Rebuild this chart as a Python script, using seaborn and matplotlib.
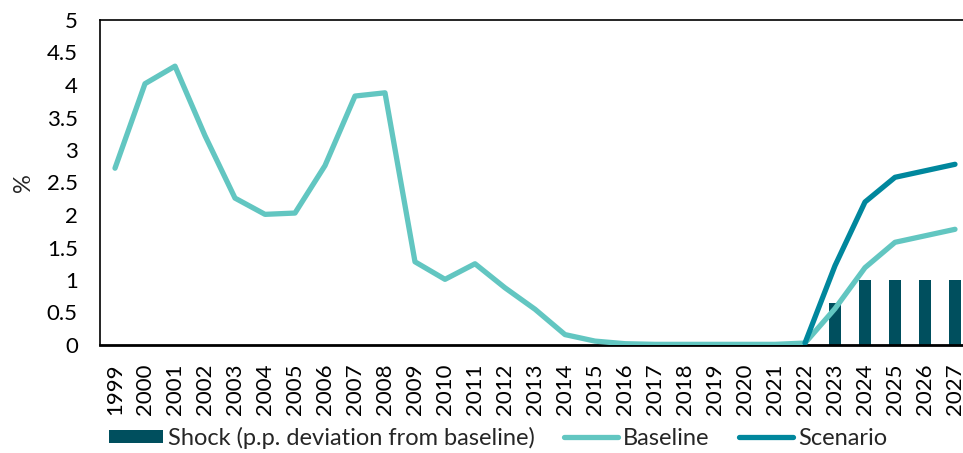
import numpy as np
import pandas as pd
import matplotlib
matplotlib.use("Agg")
import matplotlib.pyplot as plt
import seaborn as sns

# Interest-rate path, 1999-2027 (%)
years = list(range(1999, 2028))
baseline = [2.72, 4.02, 4.29, 3.22, 2.26, 2.01, 2.03, 2.76, 3.83, 3.88,
            1.28, 1.01, 1.25, 0.88, 0.55, 0.16, 0.06, 0.02, 0.01, 0.01,
            0.01, 0.01, 0.01, 0.03, 0.56, 1.19, 1.58, 1.68, 1.78]
scenario_years = [2022, 2023, 2024, 2025, 2026, 2027]
scenario = [0.03, 1.22, 2.20, 2.58, 2.68, 2.78]
shock_years = [2023, 2024, 2025, 2026, 2027]
shock = [0.64, 1.0, 1.0, 1.0, 1.0]

c_shock = "#004F5E"
c_base = "#62C6C1"
c_scen = "#00879D"

sns.set_style("white")
plt.rcParams["font.family"] = ["Lato", "DejaVu Sans"]

fig = plt.figure(figsize=(9.63, 4.53), dpi=100)
W, H = 963, 453
ax = fig.add_axes([100 / W, 108 / H, 870 / W, 325 / H])

df_shock = pd.DataFrame({"year": shock_years, "value": shock})
df_base = pd.DataFrame({"year": years, "value": baseline})
df_scen = pd.DataFrame({"year": scenario_years, "value": scenario})

sns.barplot(data=df_shock, x="year", y="value", native_scale=True, width=0.4,
            color=c_shock, saturation=1, linewidth=0, ax=ax,
            label="Shock (p.p. deviation from baseline)", zorder=1)
sns.lineplot(data=df_base, x="year", y="value", color=c_base, linewidth=3.8,
             solid_capstyle="round", ax=ax, label="Baseline", zorder=3)
sns.lineplot(data=df_scen, x="year", y="value", color=c_scen, linewidth=3.8,
             solid_capstyle="round", ax=ax, label="Scenario", zorder=4)

fs = 16
ax.set_xlim(1998.5, 2027.5)
ax.set_ylim(0, 5)
ax.set_yticks(np.arange(0, 5.01, 0.5))
ax.set_yticklabels([f"{v:g}" for v in np.arange(0, 5.01, 0.5)])
ax.set_xticks(years)
ax.set_xticklabels([str(y) for y in years], rotation=90)
ax.tick_params(axis="y", length=0, pad=16, labelsize=fs, colors="black")
ax.tick_params(axis="x", length=0, pad=13, labelsize=fs, colors="black")
ax.set_xlabel("")
ax.set_ylabel("%", fontsize=fs + 1, labelpad=9)

for side in ["left", "top", "right"]:
    ax.spines[side].set_color("black")
    ax.spines[side].set_linewidth(1.2)
ax.spines["bottom"].set_color("black")
ax.spines["bottom"].set_linewidth(2.0)

handles, labels = ax.get_legend_handles_labels()
ax.get_legend().remove()
order = ["Shock (p.p. deviation from baseline)", "Baseline", "Scenario"]
hmap = dict(zip(labels, handles))
fig.legend([hmap[k] for k in order], order, loc="center",
           bbox_to_anchor=(498 / W, 15 / H), ncol=3, frameon=False,
           fontsize=17, handlelength=2.3, handleheight=0.5,
           handletextpad=0.2, columnspacing=1.25, borderaxespad=0)

fig.savefig("out.png", dpi=100)
